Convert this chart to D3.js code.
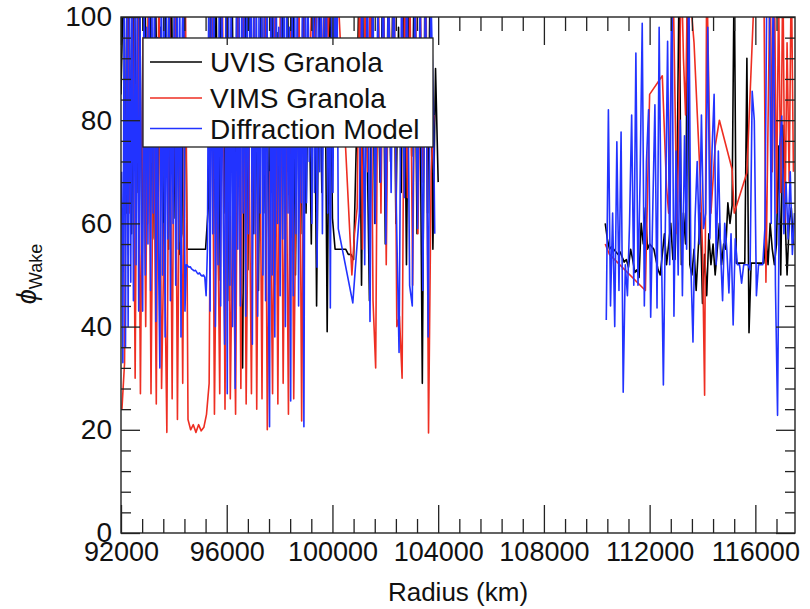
<!DOCTYPE html>
<html>
<head>
<meta charset="utf-8">
<script src="https://cdn.jsdelivr.net/npm/d3@7"></script>
<style>
  html, body { margin: 0; padding: 0; background: #fff; }
  svg { display: block; }
  text { font-family: "Liberation Sans", Arial, Helvetica, sans-serif; fill: #111; }
</style>
</head>
<body>
<svg id="chart" width="810" height="609"></svg>
<script>
// Radius sampling (km) for each data set
const uvisInnerRadius = [
  92000,92100,92200,92300,92400,92500,92600,92700,92800,92900,
  93000,93100,93200,93300,93400,93500,93600,93700,93800,93900,
  94000,94100,94200,94300,94400,94500,94600,94700,94800,94900,
  95000,95100,95200,95300,95400,95500,95600,95700,95800,95900,
  96000,96100,96200,96300,96400,96500,96600,96700,96800,96900,
  97000,97100,97200,97300,97400,97500,97600,97700,97800,97900,
  98000,98100,98200,98300,98400,98500,98600,98700,98800,98900,
  99000,99100,99200,99300,99400,99500,99600,99700,99800,99900,
  100000,100100,100200,100300,100400,100500,100600,100700,100800,100900,
  101000,101100,101200,101300,101400,101500,101600,101700,101800,101900,
  102000,102100,102200,102300,102400,102500,102600,102700,102800,102900,
  103000,103100,103200,103300,103400,103500,103600,103700,103800,103900,
  104000
];
const vimsInnerRadius = [
  92035,92135,92235,92335,92435,92535,92635,92735,92835,92935,
  93035,93135,93235,93335,93435,93535,93635,93735,93835,93935,
  94035,94135,94235,94335,94435,94535,94635,94735,94835,94935,
  95035,95135,95235,95335,95435,95535,95635,95735,95835,95935,
  96035,96135,96235,96335,96435,96535,96635,96735,96835,96935,
  97035,97135,97235,97335,97435,97535,97635,97735,97835,97935,
  98035,98135,98235,98335,98435,98535,98635,98735,98835,98935,
  99035,99135,99235,99335,99435,99535,99635,99735,99835,99935,
  100035,100135,100235,100335,100435,100535,100635,100735,100835,100935,
  101035,101135,101235,101335,101435,101535,101635,101735,101835,101935,
  102035,102135,102235,102335,102435,102535,102635,102735,102835,102935,
  103035,103135,103235,103335,103435,103535,103635,103735,103835,103935,
  104035
];
const diffInnerRadius = [
  92020,92070,92120,92170,92220,92270,92320,92370,92420,92470,
  92520,92570,92620,92670,92720,92770,92820,92870,92920,92970,
  93020,93070,93120,93170,93220,93270,93320,93370,93420,93470,
  93520,93570,93620,93670,93720,93770,93820,93870,93920,93970,
  94020,94070,94120,94170,94220,94270,94320,94370,94420,94470,
  94520,94570,94620,94670,94720,94770,94820,94870,94920,94970,
  95020,95070,95120,95170,95220,95270,95320,95370,95420,95470,
  95520,95570,95620,95670,95720,95770,95820,95870,95920,95970,
  96020,96070,96120,96170,96220,96270,96320,96370,96420,96470,
  96520,96570,96620,96670,96720,96770,96820,96870,96920,96970,
  97020,97070,97120,97170,97220,97270,97320,97370,97420,97470,
  97520,97570,97620,97670,97720,97770,97820,97870,97920,97970,
  98020,98070,98120,98170,98220,98270,98320,98370,98420,98470,
  98520,98570,98620,98670,98720,98770,98820,98870,98920,98970,
  99020,99070,99120,99170,99220,99270,99320,99370,99420,99470,
  99520,99570,99620,99670,99720,99770,99820,99870,99920,99970,
  100020,100070,100120,100170,100220,100270,100320,100370,100420,100470,
  100520,100570,100620,100670,100720,100770,100820,100870,100920,100970,
  101020,101070,101120,101170,101220,101270,101320,101370,101420,101470,
  101520,101570,101620,101670,101720,101770,101820,101870,101920,101970,
  102020,102070,102120,102170,102220,102270,102320,102370,102420,102470,
  102520,102570,102620,102670,102720,102770,102820,102870,102920,102970,
  103020,103070,103120,103170,103220,103270,103320,103370,103420,103470,
  103520,103570,103620,103670,103720,103770,103820,103870,103920,103970,
  104020
];
const outerRadius = [
  110240,110320,110400,110480,110560,110640,110720,110800,110880,110960,
  111040,111120,111200,111280,111360,111440,111520,111600,111680,111760,
  111840,111920,112000,112080,112160,112240,112320,112400,112480,112560,
  112640,112720,112800,112880,112960,113040,113120,113200,113280,113360,
  113440,113520,113600,113680,113760,113840,113920,114000,114080,114160,
  114240,114320,114400,114480,114560,114640,114720,114800,114880,114960,
  115040,115120,115200,115280,115360,115440,115520,115600,115680,115760,
  115840,115920,116000,116080,116160,116240,116320,116400,116480,116560,
  116640,116720,116800,116880,116960,117040,117120,117200,117280,117360,
  117440
];
const diffOuterRadius = [
  110280,110360,110440,110520,110600,110680,110760,110840,110920,111000,
  111080,111160,111240,111320,111400,111480,111560,111640,111720,111800,
  111880,111960,112040,112120,112200,112280,112360,112440,112520,112600,
  112680,112760,112840,112920,113000,113080,113160,113240,113320,113400,
  113480,113560,113640,113720,113800,113880,113960,114040,114120,114200,
  114280,114360,114440,114520,114600,114680,114760,114840,114920,115000,
  115080,115160,115240,115320,115400,115480,115560,115640,115720,115800,
  115880,115960,116040,116120,116200,116280,116360,116440,116520,116600,
  116680,116760,116840,116920,117000,117080,117160,117240,117320,117400,
  117480
];

// Wake orientation angle (deg), UVIS Granola fit
const uvisInner = [
  85,110,62,105,58,110,66,108,52,112,
  60,104,57,110,63,98,50,108,55,112,
  61,100,54,58,108,55,55,55,55,55,
  55,55,55,63,110,58,104,49,112,62,
  95,45,108,56,110,60,32,105,51,112,
  58,88,47,110,62,104,53,110,48,97,
  60,112,55,106,64,110,50,102,58,111,
  62,93,56,108,44,100,66,110,39,104,
  61,55,55,55,55,55,54,54,53,75,
  106,48,100,80,45,110,60,95,68,110,
  56,102,72,112,60,98,66,110,52,104,
  73,111,58,96,29,108,62,110,55,90,
  68
];
const uvisOuter = [
  null,60,57,55,55.5,55,54.5,54,54.5,53.5,
  52.5,53,51.5,55,53,50.5,51,49.5,60,56,
  63,55,56,55.5,55,53,51,50,54,58,
  52,56,60,53,53,70,110,52,62,56,
  110,52,50,55,47,55,62,44.5,54,46,
  58,52,56,50,55,60,52,56,55,64,
  60,63.5,110,52.3,52.3,52.3,52.3,52.3,92,38.8,
  52.3,52.3,52.3,52.3,52.3,52.3,52.3,58,52,60,
  55,52,56,75,50,79,62,50,60,63,
  56
];

// VIMS Granola fit
const vimsInner = [
  24,33,110,62,105,30,108,27,96,40,
  110,27,85,25,110,28,60,19.5,104,26,
  112,22,90,29,108,22,20,21,19.5,21,
  19.8,20.5,23,29,110,23,75,27,108,24,
  112,26,66,23,105,28,110,25,80,27,
  110,24,95,26,112,20,70,27,108,25,
  110,29,88,23,110,26,76,106,21.7,100,
  112,85,110,92,104,110,88,112,96,110,
  101,112,102,null,null,null,null,50,58,63,
  110,55,105,70,112,45,32,108,62,110,
  52,104,75,112,40,42,30,110,65,104,
  48,110,58,100,68,112,19.4,70,81,null,
  null
];
const vimsOuter = [
  null,56,null,54,null,null,null,null,null,null,
  null,null,null,null,null,null,null,null,null,null,
  47,null,85,null,null,null,null,null,88.6,null,
  67,62,null,110,null,58,null,110,92,81,
  110,null,null,95,null,null,68,55,26.7,110,
  null,62,null,75,null,80,null,null,null,null,
  null,70.5,62,null,null,null,null,null,69.8,null,
  null,null,110,null,null,null,110,48.6,null,110,
  70,110,62,105,66,110,60,95,68,110,
  70
];

// Diffraction model
const diffInner = [
  70,33,105,36,110,40,108,48.6,112,45,
  104,52,110,43,100,60,43,112,50,98,
  56,110,47,104,62,112,41,96,54,32,
  108,50,112,38,100,57,110,45,95,60,
  112,48,104,55,110,38,98,110,43,52,
  51.8,51.5,51.6,51.2,51,50.8,50.9,50.5,50.2,50.4,
  50,49.8,50,49.6,46,55,106,43,110,58,
  112,40,90,52,112,44,104,60,36.6,110,
  27,104,48,110,40,96,28,112,55,100,
  44,110,62,108,42,112,58,95,110,36.6,
  108,58,110,42,100,62,112,50,104,45,
  110,56,20.6,110,50,105,38,112,60,98,
  46,110,57,104,40,112,62,98,25.6,110,
  46,104,58,110,44,96,64,112,20.6,108,
  64,112,72,96,60,110,66,100,51.5,106,
  70,112,58,100,76,110,62,96,43.6,106,
  66,110,84,110,59,null,null,null,null,null,
  null,null,null,null,null,44.6,null,null,null,null,
  62,null,110,null,52,null,112,null,41,null,
  110,null,60,null,104,null,68,null,112,null,
  56,null,110,null,66,null,112,null,62,null,
  35,null,110,null,65,null,112,null,48,null,
  44,null,110,null,59,null,106,null,47,null,
  110,null,38,null,106,null,82,58,null,null,
  null
];
const diffOuter = [
  null,41.3,82,44,62,40,75.8,47,77.7,27.3,
  52,46,60,81,48,93,48,68.8,98.8,44,
  72,82,41.8,63,83,43.6,98,58,28.7,62,
  95.3,52,110,42,74,50,80,46,77,55,
  110,52,37,61,72,56,81,59,62,98,
  57,74,85,52,74,55,45,60,55,46.5,
  58,40.3,57,52,52,48.4,52,52,52,51,
  85.6,80,46,52,52,52,58.9,110,110,60,
  110,48,22.8,75,80.8,58,68,57,70,54,
  62
];

const seriesNames = ["UVIS Granola", "VIMS Granola", "Diffraction Model"];
const seriesColors = ["#000000", "#ee2e22", "#2233ff"];

const xMajorTicks = [92000, 96000, 100000, 104000, 108000, 112000, 116000];
const yMajorTicks = [0, 20, 40, 60, 80, 100];

const svg = d3.select("#chart");
const plotLeft = 121, plotRight = 795, plotTop = 17, plotBottom = 533;

const x = d3.scaleLinear().domain([92000, 117500]).range([plotLeft, plotRight]);
const y = d3.scaleLinear().domain([0, 100]).range([plotBottom, plotTop]);

svg.append("defs").append("clipPath").attr("id", "plot-clip")
  .append("rect").attr("x", plotLeft).attr("y", plotTop)
  .attr("width", plotRight - plotLeft).attr("height", plotBottom - plotTop);

const line = d3.line().x(d => x(d[0])).y(d => y(d[1]));
const pairs = (radii, vals) => radii.map((r, i) => [r, vals[i]]).filter(d => d[1] != null);

// Each data set: inner ring segment and outer ring segment, drawn as separate paths
const series = [
  [[uvisInnerRadius, uvisInner], [outerRadius, uvisOuter]],
  [[vimsInnerRadius, vimsInner], [outerRadius, vimsOuter]],
  [[diffInnerRadius, diffInner], [diffOuterRadius, diffOuter]]
];

const plot = svg.append("g").attr("clip-path", "url(#plot-clip)");
series.forEach((segments, si) => {
  segments.forEach(([radii, vals]) => {
    plot.append("path")
      .attr("d", line(pairs(radii, vals)))
      .attr("fill", "none")
      .attr("stroke", seriesColors[si])
      .attr("stroke-width", 1.6)
      .attr("stroke-linejoin", "round");
  });
});

// Legend
const legend = svg.append("g");
legend.append("rect")
  .attr("x", 143).attr("y", 38).attr("width", 290).attr("height", 109)
  .attr("fill", "#fff").attr("stroke", "#222").attr("stroke-width", 1.3);
const legendRows = [62, 98, 128.5];
const legendBase = [72, 107.5, 138.5];
seriesNames.forEach((name, i) => {
  legend.append("line")
    .attr("x1", 150).attr("x2", 202)
    .attr("y1", legendRows[i]).attr("y2", legendRows[i])
    .attr("stroke", seriesColors[i]).attr("stroke-width", 1.4);
  legend.append("text")
    .attr("x", 210).attr("y", legendBase[i])
    .attr("font-size", 28)
    .text(name);
});

// Axes: major and minor ticks on all four sides, pointing inward
const xMinor = d3.range(92000, 117500, 800).filter(v => v % 4000 !== 0);
const yMinor = d3.range(0, 100, 4).filter(v => v % 20 !== 0);

function styleAxis(g) {
  g.select(".domain").remove();
  g.selectAll(".tick line").attr("stroke", "#222").attr("stroke-width", 1.3);
  g.selectAll(".tick text").attr("fill", "#111")
    .style("font-family", '"Liberation Sans", Arial, Helvetica, sans-serif');
}

svg.append("g").attr("transform", `translate(0,${plotBottom})`)
  .call(d3.axisBottom(x).tickValues(xMajorTicks).tickFormat(d3.format("d"))
    .tickSizeInner(-28).tickSizeOuter(0).tickPadding(9))
  .call(styleAxis)
  .call(g => g.selectAll(".tick text").attr("font-size", 27));
svg.append("g").attr("transform", `translate(0,${plotBottom})`)
  .call(d3.axisBottom(x).tickValues(xMinor).tickFormat("").tickSizeInner(-14).tickSizeOuter(0))
  .call(styleAxis);
svg.append("g").attr("transform", `translate(0,${plotTop})`)
  .call(d3.axisTop(x).tickValues(xMajorTicks).tickFormat("").tickSizeInner(-28).tickSizeOuter(0))
  .call(styleAxis);
svg.append("g").attr("transform", `translate(0,${plotTop})`)
  .call(d3.axisTop(x).tickValues(xMinor).tickFormat("").tickSizeInner(-14).tickSizeOuter(0))
  .call(styleAxis);

svg.append("g").attr("transform", `translate(${plotLeft},0)`)
  .call(d3.axisLeft(y).tickValues(yMajorTicks).tickFormat(d3.format("d"))
    .tickSizeInner(-19).tickSizeOuter(0).tickPadding(9))
  .call(styleAxis)
  .call(g => g.selectAll(".tick text").attr("font-size", 28));
svg.append("g").attr("transform", `translate(${plotLeft},0)`)
  .call(d3.axisLeft(y).tickValues(yMinor).tickFormat("").tickSizeInner(-10).tickSizeOuter(0))
  .call(styleAxis);
svg.append("g").attr("transform", `translate(${plotRight},0)`)
  .call(d3.axisRight(y).tickValues(yMajorTicks).tickFormat("").tickSizeInner(-19).tickSizeOuter(0))
  .call(styleAxis);
svg.append("g").attr("transform", `translate(${plotRight},0)`)
  .call(d3.axisRight(y).tickValues(yMinor).tickFormat("").tickSizeInner(-10).tickSizeOuter(0))
  .call(styleAxis);

// Plot frame
svg.append("rect")
  .attr("x", plotLeft).attr("y", plotTop)
  .attr("width", plotRight - plotLeft).attr("height", plotBottom - plotTop)
  .attr("fill", "none").attr("stroke", "#222").attr("stroke-width", 1.4);

// Axis titles
svg.append("text")
  .attr("x", (plotLeft + plotRight) / 2).attr("y", 601)
  .attr("text-anchor", "middle").attr("font-size", 26)
  .text("Radius (km)");

const yTitle = svg.append("text")
  .attr("transform", "translate(36,274) rotate(-90)")
  .attr("text-anchor", "middle");
yTitle.append("tspan").attr("font-size", 27).attr("font-style", "italic").text("ϕ");
yTitle.append("tspan").attr("font-size", 18).attr("dy", 6).text("Wake");
</script>
</body>
</html>
